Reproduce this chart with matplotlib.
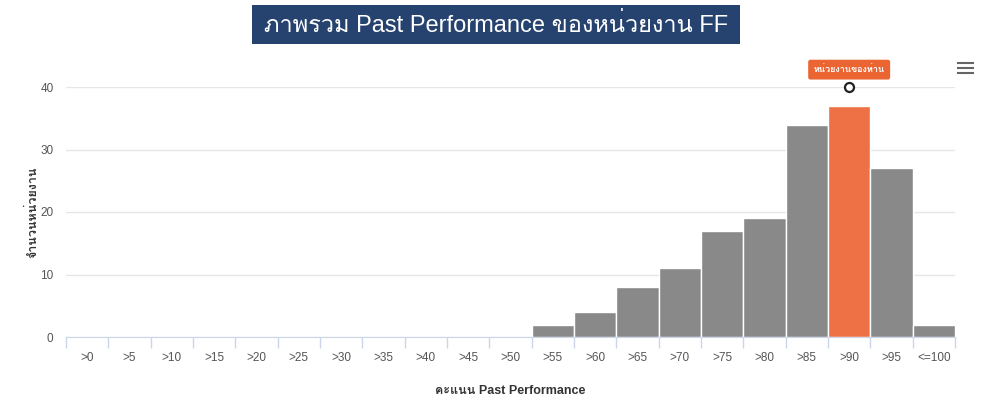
import numpy as np
import matplotlib
matplotlib.use('Agg')
import matplotlib.pyplot as plt
from matplotlib import font_manager
from matplotlib.patches import Rectangle
from matplotlib.lines import Line2D

# ข้อมูล
categories = ['>0', '>5', '>10', '>15', '>20', '>25', '>30', '>35', '>40', '>45', '>50',
              '>55', '>60', '>65', '>70', '>75', '>80', '>85', '>90', '>95', '<=100']
counts = [0, 0, 0, 0, 0, 0, 0, 0, 0, 0, 0, 2, 4, 8, 11, 17, 19, 34, 37, 27, 2]
highlight = '>90'
title = 'ภาพรวม Past Performance ของหน่วยงาน FF'
marker_label = 'หน่วยงานของท่าน'
xlabel = 'คะแนน Past Performance'
ylabel = 'จำนวนหน่วยงาน'


def find_thai_font():
    try:
        from fontTools.ttLib import TTFont
    except ImportError:
        return None
    for f in font_manager.fontManager.ttflist:
        try:
            tt = TTFont(f.fname, fontNumber=0, lazy=True)
            cmap = tt.getBestCmap()
            if cmap and 0x0E20 in cmap and 0x0E32 in cmap:
                return f.name
        except Exception:
            continue
    return None


thai = find_thai_font()
fam = ['Liberation Sans'] + ([thai] if thai else []) + ['DejaVu Sans']
plt.rcParams['font.family'] = fam

W, H = 997, 404
fig = plt.figure(figsize=(W / 100, H / 100), dpi=100)
x0, x1, y0, y1 = 66, 955, 337, 87
ax = fig.add_axes([x0 / W, 1 - y0 / H, (x1 - x0) / W, (y0 - y1) / H])

x = np.arange(len(categories))
colors = ['#EE7145' if c == highlight else '#898989' for c in categories]
ax.bar(x, counts, width=1.0, color=colors, edgecolor='white', linewidth=1, zorder=2)

ax.set_xlim(-0.5, len(categories) - 0.5)
ax.set_ylim(0, 40)
ax.set_yticks([0, 10, 20, 30, 40])
ax.yaxis.grid(True, color='#e6e6e6', linewidth=1, zorder=0)
ax.tick_params(axis='y', length=0, labelsize=8.5, labelcolor='#555555', pad=9)
ax.set_xticks(x)
ax.set_xticklabels(categories)
ax.set_xticks(np.arange(-0.5, len(categories), 1), minor=True)
ax.tick_params(axis='x', which='major', length=0, labelsize=8.5, labelcolor='#555555', pad=11)
ax.tick_params(axis='x', which='minor', length=8, color='#ccd6eb', width=1)
for s in ['top', 'right', 'left']:
    ax.spines[s].set_visible(False)
ax.spines['bottom'].set_color('#ccd6eb')
ax.spines['bottom'].set_zorder(3)

ax.set_xlabel(xlabel, fontsize=9, fontweight='bold', color='#333333', labelpad=15)
ax.set_ylabel(ylabel, fontsize=9, fontweight='bold', color='#333333', labelpad=1)

# จุดหน่วยงานของท่าน
hi = categories.index(highlight)
ax.plot([hi], [40], marker='o', markersize=6.5, markerfacecolor='white',
        markeredgecolor='#222222', markeredgewidth=1.6, clip_on=False, zorder=5)
ax.annotate(marker_label, xy=(hi, 40), xytext=(0, 12.5), textcoords='offset points',
            ha='center', va='center', fontsize=6.5, fontweight='bold', color='white',
            bbox=dict(boxstyle='round,pad=0.6,rounding_size=0.25', fc='#EB6532', ec='none'),
            annotation_clip=False)

# กล่องหัวเรื่อง
fig.patches.append(Rectangle((252 / W, 1 - 44 / H), 488 / W, 39 / H,
                             transform=fig.transFigure, facecolor='#26436F',
                             edgecolor='none'))
fig.text(496 / W, 1 - 25 / H, title, ha='center', va='center', color='white',
         fontsize=17)

# ไอคอนเมนู
for yy in (63, 68, 73):
    fig.add_artist(Line2D([958 / W, 973 / W], [1 - yy / H, 1 - yy / H],
                          color='#666666', linewidth=1.5))

fig.savefig('out.png', dpi=100)
